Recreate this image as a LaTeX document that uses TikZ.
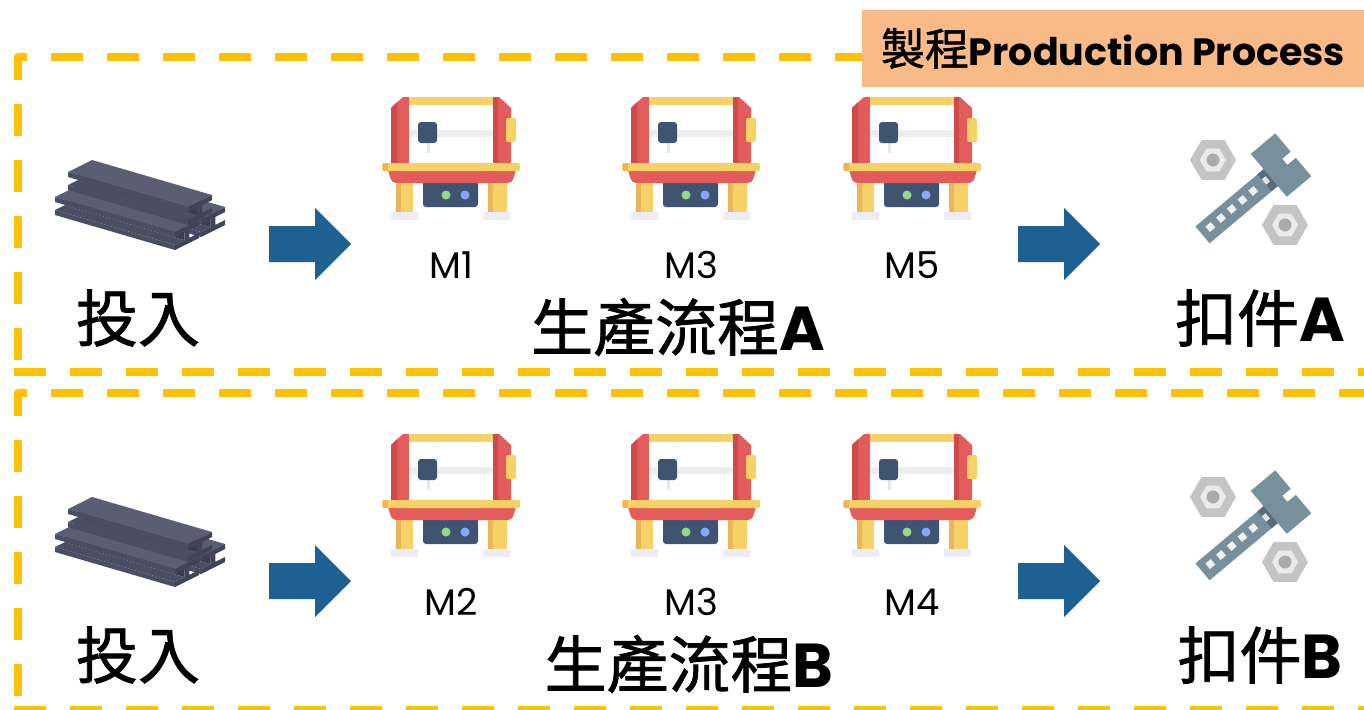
\documentclass[tikz,border=0pt]{standalone}
\usepackage{fontspec}
\setmainfont{Poppins}
\newfontfamily\cjk{Noto Sans CJK TC}[FakeBold=1.2]
\usetikzlibrary{positioning}
\definecolor{gold}{HTML}{FFC000}
\definecolor{peach}{HTML}{F8BB87}
\definecolor{flowblue}{RGB}{31,96,146}
\definecolor{mred}{HTML}{E35B5B}
\definecolor{mreddark}{HTML}{CF4A4A}
\definecolor{myellow}{HTML}{F6D266}
\definecolor{morange}{HTML}{EDB55A}
\definecolor{mslate}{HTML}{3E5470}
\definecolor{mfeet}{HTML}{EDEBF5}
\definecolor{mgreen}{HTML}{97D78C}
\definecolor{mblue}{HTML}{8CA5FF}
\definecolor{steeltop}{HTML}{5A5E72}
\definecolor{steelside}{HTML}{4A4E62}
\definecolor{steeldark}{HTML}{3A3D4E}
\definecolor{steelend}{HTML}{414457}
\definecolor{boltgray}{HTML}{78909C}
\definecolor{boltdark}{HTML}{566C79}
\definecolor{nutgray}{HTML}{C4C4C4}
\definecolor{nutlight}{HTML}{EAEAEA}

\tikzset{
  % one I-beam, front top corner at the origin
  ibeam/.pic={
    \fill[steeldark] (9.6,0.2) -- (129.6,35.2) -- (129.6,43.2) -- (9.6,8.2) -- cycle;
    \fill[steelside] (0,13) -- (120,48) -- (129.6,43.2) -- (9.6,8.2) -- cycle;
    \fill[steeltop] (0,0) -- (24,-12) -- (144,23) -- (120,35) -- cycle;
    \fill[steelside] (0,0) -- (120,35) -- (120,40) -- (0,5) -- cycle;
    \fill[steelside] (0,13) -- (120,48) -- (120,53) -- (0,18) -- cycle;
    \fill[steelend] (120,35) -- (144,23) -- (144,28) -- (134.4,32.8) -- (134.4,40.8)
      -- (144,36) -- (144,41) -- (120,53) -- (120,48) -- (129.6,43.2)
      -- (129.6,35.2) -- (120,40) -- cycle;
  },
  steelpile/.pic={
    \path (26,-13) pic {ibeam} (0,0) pic {ibeam} (13,-25) pic {ibeam};
  },
  % machine tool, top left corner at the origin
  machine/.pic={
    \fill[mred] (9,11) -- (21,0) -- (27,0) -- (27,66) -- (9,66) -- cycle;
    \fill[mreddark] (9,11) -- (15,5) -- (15,66) -- (9,66) -- cycle;
    \fill[mred] (111,0) -- (117,0) -- (129,11) -- (129,66) -- (111,66) -- cycle;
    \fill[mreddark] (111,0) rectangle (116,66);
    \fill[white] (27,8) rectangle (111,66);
    \fill[myellow] (27,0) rectangle (111,8);
    \fill[black!7] (27,33) rectangle (111,40);
    \fill[black!9] (45,46) rectangle (48,56);
    \fill[mslate, rounded corners=3pt] (36,25) rectangle (55,46);
    \fill[myellow, rounded corners=2pt] (124,21) rectangle (134,45);
    \fill[mslate, rounded corners=3pt] (41,76) rectangle (96,110);
    \fill[mgreen] (64,98) circle (4.5);
    \fill[mblue] (83,98) circle (4.5);
    \fill[mred, rounded corners=4pt] (5,70) -- (135,70) -- (130,86) -- (10,86) -- cycle;
    \fill[myellow, rounded corners=2pt] (0,66) rectangle (138,74);
    \fill[morange] (1,66) rectangle (6,74);
    \fill[myellow] (14,86) rectangle (31,115);
    \fill[morange] (14,86) rectangle (19,115);
    \fill[myellow] (106,86) rectangle (125,115);
    \fill[morange] (106,86) rectangle (111,115);
    \fill[mfeet] (9,115) rectangle (36,123);
    \fill[mfeet] (101,115) rectangle (128,123);
  },
  hexnut/.pic={
    \fill[nutgray] (0:23) -- (60:23) -- (120:23) -- (180:23) -- (240:23) -- (300:23) -- cycle;
    \fill[nutlight] (0:13) -- (60:13) -- (120:13) -- (180:13) -- (240:13) -- (300:13) -- cycle;
    \fill[black!33] (0,0) circle (6.5);
  },
  % bolt with two nuts, centred on the origin
  fastener/.pic={
    \path (-37,-35) pic {hexnut} (35,30) pic {hexnut};
    \begin{scope}[rotate=40]
      \fill[boltgray] (-62,-11) rectangle (27,11);
      \fill[boltgray] (27,-31) -- (59,-31) -- (59,-7) -- (48,-7) -- (48,1)
        -- (59,1) -- (59,25) -- (27,25) -- cycle;
      \fill[boltdark] (19,-11) rectangle (27,11);
      \fill[white!75!boltgray] (19,-4.5) rectangle (24,2.5);
      \foreach \a in {-51,-37,-23,-9,5}
        \fill[white!88!boltgray] (\a-3.5,-4.5) rectangle (\a+3.5,2.5);
    \end{scope}
  },
  flowarrow/.pic={
    \fill[flowblue] (269,226) -- (315,226) -- (315,208) -- (351,244)
      -- (315,280) -- (315,262) -- (269,262) -- cycle;
  },
  dashbox/.style={draw=gold, line width=8pt, dash pattern=on 32pt off 24pt},
  bigtxt/.style={font=\cjk\fontsize{62}{62}\selectfont, inner sep=0pt},
  mlabel/.style={font=\fontsize{37}{37}\selectfont, inner sep=0pt},
  tagbox/.style={fill=peach, inner sep=0pt, minimum width=502pt, minimum height=77pt}
}

\begin{document}
\begin{tikzpicture}[x=1pt, y=-1pt]
\clip (0,0) rectangle (1364,709);
\fill[white] (0,0) rectangle (1364,709);

% dashed frames round the two flows
\foreach \dy in {0,336}{
  \begin{scope}[shift={(0,\dy)}]
    \draw[dashbox, line join=round] (18,80) -- (18,57) -- (1400,57);
    \draw[dashbox, dash phase=32pt] (18,80) -- (18,368);
  \end{scope}
}
\draw[dashbox] (14,372) -- (1400,372);
\draw[dashbox] (14,710) -- (1400,710);

\node[tagbox] (proc) at (1113,48.5)
  {{\cjk\fontsize{44}{44}\selectfont 製程}{\bfseries\fontsize{38}{38}\selectfont Production Process}};

\foreach \row/\dy/\fx/\ma/\mb/\mc in {A/0/678/M1/M3/M5, B/337/689/M2/M3/M4}{
  \begin{scope}[shift={(0,\dy)}]
    \pic at (55,197) {steelpile};
    \node[bigtxt] (in\row) at (138,318) {投入};
    \pic at (0,0) {flowarrow};
    \pic at (749,0) {flowarrow};
    \foreach \mx/\ml [count=\k] in {382/\ma, 622/\mb, 843/\mc}{
      \pic at (\mx,97) {machine};
      \node[mlabel] (m\row\k) at (\mx+69,265) {\ml};
    }
    \node[bigtxt] (flow\row) at (\fx,327) {生產流程{\rmfamily\bfseries\row}};
    \pic at (1250,195) {fastener};
    \node[bigtxt] (part\row) at (1260,318) {扣件{\rmfamily\bfseries\row}};
  \end{scope}
}
\end{tikzpicture}
\end{document}
